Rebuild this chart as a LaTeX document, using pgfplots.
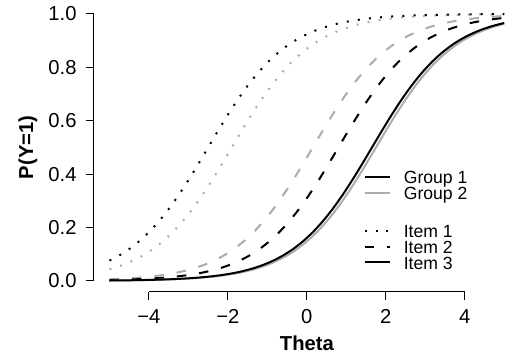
\documentclass[border=0pt]{standalone}
\usepackage{fontspec}
\setmainfont{Liberation Sans}
\usepackage{pgfplots}
\pgfplotsset{compat=1.18}
\definecolor{grayline}{RGB}{172,172,172}
\begin{document}
\begin{tikzpicture}
\begin{axis}[
  x=19.75pt, y=133.5pt,
  xmin=-5.4, xmax=5.12, ymin=-0.04, ymax=1.04,
  axis lines*=left,
  axis line style={draw=none},
  tick align=outside,
  major tick length=4pt,
  tick style={black, line width=0.5pt},
  xtick={-4,-2,0,2,4},
  xticklabels={−4,−2,0,2,4},
  ytick={0,0.2,0.4,0.6,0.8,1},
  yticklabels={0.0,0.2,0.4,0.6,0.8,1.0},
  tick label style={font=\fontsize{10.1}{12}\selectfont},
  xticklabel style={inner sep=0pt, anchor=north, yshift=-4.8pt},
  yticklabel style={inner sep=0pt, anchor=east, xshift=-4.35pt},
  xlabel={Theta},
  xlabel style={at={(axis description cs:0.5133,-0.1803)}, anchor=center, font=\bfseries\fontsize{10.1}{12}\selectfont, inner sep=0pt},
  ylabel={P(Y=1)},
  ylabel style={at={(axis description cs:-0.1581,0.5)}, anchor=center, font=\bfseries\fontsize{10.1}{12}\selectfont, inner sep=0pt},
  clip=false,
  legend style={at={(axis cs:1.443,0.417)}, anchor=north west, draw=none, fill=none, inner sep=0pt, outer sep=0pt, column sep=6.2pt, row sep=0pt, font=\fontsize{8.8}{10.5}\selectfont, nodes={inner sep=0pt, text height=7.2pt, text depth=0.6pt}, cells={anchor=west}},
  legend image code/.code={\draw[#1] (0pt,0pt) -- (12.8pt,0pt);},
  every axis plot/.append style={line width=1pt},
]
\draw[line width=0.5pt] (axis cs:-4,-0.04) -- (axis cs:4,-0.04);
\draw[line width=0.5pt] (axis cs:-5.4,0) -- (axis cs:-5.4,1);
\coordinate (bl) at (rel axis cs:0,0);
\coordinate (tr) at (rel axis cs:1,1);

% Item 1, Group 2 (gray dotted)
\addplot[forget plot, grayline, smooth, dash pattern=on 1pt off 4.6pt] coordinates {
(-5,0.0431) (-4.9,0.0474) (-4.65,0.0601) (-4.4,0.0759) (-4.15,0.0953) (-3.9,0.1192) (-3.65,0.1480) (-3.4,0.1824) (-3.15,0.2227) (-2.9,0.2689) (-2.65,0.3208) (-2.4,0.3775) (-2.15,0.4378) (-1.9,0.5) (-1.65,0.5622) (-1.4,0.6225) (-1.15,0.6792) (-0.9,0.7311) (-0.65,0.7773) (-0.4,0.8176) (-0.15,0.8520) (0.1,0.8808) (0.35,0.9047) (0.6,0.9241) (0.85,0.9399) (1.1,0.9526) (1.35,0.9627) (1.6,0.9707) (1.85,0.9770) (2.1,0.9820) (2.35,0.9859) (2.6,0.9890) (2.85,0.9914) (3.1,0.9933) (3.35,0.9948) (3.6,0.9959) (3.85,0.9968) (4.1,0.9975) (4.35,0.9981) (4.6,0.9985) (4.85,0.9988) (5,0.9990)};
% Item 1, Group 1 (black dotted)
\addplot[forget plot, black, smooth, dash pattern=on 1pt off 4.6pt] coordinates {
(-5,0.0759) (-4.75,0.0953) (-4.5,0.1192) (-4.25,0.1480) (-4,0.1824) (-3.75,0.2227) (-3.5,0.2689) (-3.25,0.3208) (-3,0.3775) (-2.75,0.4378) (-2.5,0.5) (-2.25,0.5622) (-2,0.6225) (-1.75,0.6792) (-1.5,0.7311) (-1.25,0.7773) (-1,0.8176) (-0.75,0.8520) (-0.5,0.8808) (-0.25,0.9047) (0,0.9241) (0.25,0.9399) (0.5,0.9526) (0.75,0.9627) (1,0.9707) (1.25,0.9770) (1.5,0.9820) (1.75,0.9859) (2,0.9890) (2.25,0.9914) (2.5,0.9933) (2.75,0.9948) (3,0.9959) (3.25,0.9968) (3.5,0.9975) (3.75,0.9981) (4,0.9985) (4.25,0.9988) (4.5,0.9991) (4.75,0.9993) (5,0.9994)};
% Item 2, Group 2 (gray dashed)
\addplot[forget plot, grayline, smooth, dash pattern=on 4.75pt off 6.5pt] coordinates {
(-5,0.0058) (-4.85,0.0067) (-4.6,0.0086) (-4.35,0.0110) (-4.1,0.0141) (-3.85,0.0180) (-3.6,0.0230) (-3.35,0.0293) (-3.1,0.0373) (-2.85,0.0474) (-2.6,0.0601) (-2.35,0.0759) (-2.1,0.0953) (-1.85,0.1192) (-1.6,0.1480) (-1.35,0.1824) (-1.1,0.2227) (-0.85,0.2689) (-0.6,0.3208) (-0.35,0.3775) (-0.1,0.4378) (0.15,0.5) (0.4,0.5622) (0.65,0.6225) (0.9,0.6792) (1.15,0.7311) (1.4,0.7773) (1.65,0.8176) (1.9,0.8520) (2.15,0.8808) (2.4,0.9047) (2.65,0.9241) (2.9,0.9399) (3.15,0.9526) (3.4,0.9627) (3.65,0.9707) (3.9,0.9770) (4.15,0.9820) (4.4,0.9859) (4.65,0.9890) (4.9,0.9914) (5,0.9922)};
% Item 2, Group 1 (black dashed)
\addplot[forget plot, black, smooth, dash pattern=on 4.75pt off 6.5pt] coordinates {
(-5,0.0030) (-4.95,0.0032) (-4.7,0.0041) (-4.45,0.0052) (-4.2,0.0067) (-3.95,0.0086) (-3.7,0.0110) (-3.45,0.0141) (-3.2,0.0180) (-2.95,0.0230) (-2.7,0.0293) (-2.45,0.0373) (-2.2,0.0474) (-1.95,0.0601) (-1.7,0.0759) (-1.45,0.0953) (-1.2,0.1192) (-0.95,0.1480) (-0.7,0.1824) (-0.45,0.2227) (-0.2,0.2689) (0.05,0.3208) (0.3,0.3775) (0.55,0.4378) (0.8,0.5) (1.05,0.5622) (1.3,0.6225) (1.55,0.6792) (1.8,0.7311) (2.05,0.7773) (2.3,0.8176) (2.55,0.8520) (2.8,0.8808) (3.05,0.9047) (3.3,0.9241) (3.55,0.9399) (3.8,0.9526) (4.05,0.9627) (4.3,0.9707) (4.55,0.9770) (4.8,0.9820) (5,0.9852)};
% Item 3, Group 2 (gray solid)
\addplot[forget plot, grayline, smooth] coordinates {
(-5,0.0012) (-4.75,0.0015) (-4.5,0.0019) (-4.25,0.0025) (-4,0.0032) (-3.75,0.0041) (-3.5,0.0052) (-3.25,0.0067) (-3,0.0086) (-2.75,0.0110) (-2.5,0.0141) (-2.25,0.0180) (-2,0.0230) (-1.75,0.0293) (-1.5,0.0373) (-1.25,0.0474) (-1,0.0601) (-0.75,0.0759) (-0.5,0.0953) (-0.25,0.1192) (0,0.1480) (0.25,0.1824) (0.5,0.2227) (0.75,0.2689) (1,0.3208) (1.25,0.3775) (1.5,0.4378) (1.75,0.5) (2,0.5622) (2.25,0.6225) (2.5,0.6792) (2.75,0.7311) (3,0.7773) (3.25,0.8176) (3.5,0.8520) (3.75,0.8808) (4,0.9047) (4.25,0.9241) (4.5,0.9399) (4.75,0.9526) (5,0.9627)};
% Item 3, Group 1 (black solid)
\addplot[forget plot, black, smooth] coordinates {
(-5,0.0013) (-4.85,0.0015) (-4.6,0.0019) (-4.35,0.0025) (-4.1,0.0032) (-3.85,0.0041) (-3.6,0.0052) (-3.35,0.0067) (-3.1,0.0086) (-2.85,0.0110) (-2.6,0.0141) (-2.35,0.0180) (-2.1,0.0230) (-1.85,0.0293) (-1.6,0.0373) (-1.35,0.0474) (-1.1,0.0601) (-0.85,0.0759) (-0.6,0.0953) (-0.35,0.1192) (-0.1,0.1480) (0.15,0.1824) (0.4,0.2227) (0.65,0.2689) (0.9,0.3208) (1.15,0.3775) (1.4,0.4378) (1.65,0.5) (1.9,0.5622) (2.15,0.6225) (2.4,0.6792) (2.65,0.7311) (2.9,0.7773) (3.15,0.8176) (3.4,0.8520) (3.65,0.8808) (3.9,0.9047) (4.15,0.9241) (4.4,0.9399) (4.65,0.9526) (4.9,0.9627) (5,0.9661)};

\addlegendimage{black, line width=1pt}
\addlegendentry{Group 1}
\addlegendimage{grayline, line width=1pt}
\addlegendentry{Group 2}
\addlegendimage{empty legend}
\addlegendentry[text height=11.35pt, text depth=0pt]{}
\addlegendimage{black, line width=1pt, dash pattern=on 1pt off 4.4pt}
\addlegendentry{Item 1}
\addlegendimage{black, line width=1pt, dash pattern=on 4.75pt off 6.5pt}
\addlegendentry{Item 2}
\addlegendimage{black, line width=1pt}
\addlegendentry{Item 3}
\end{axis}
\pgfresetboundingbox
\useasboundingbox ([xshift=-46.85pt,yshift=-33pt]bl) rectangle ([yshift=1.65pt]tr);
\end{tikzpicture}
\end{document}
